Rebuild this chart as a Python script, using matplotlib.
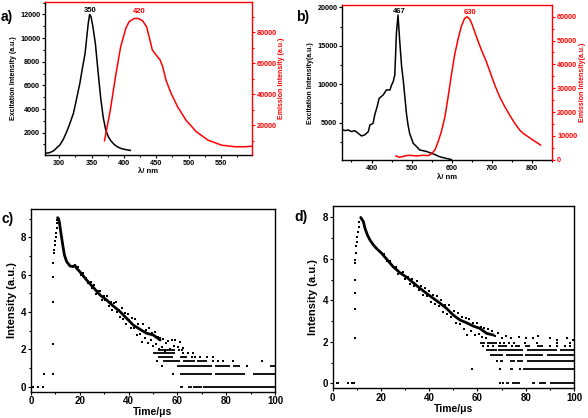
"""
Excitation/emission spectra (a, b) and luminescence decay curves (c, d).
"""

import matplotlib.pyplot as plt
from matplotlib.ticker import MultipleLocator, AutoMinorLocator

plt.rcParams['font.family'] = ['Liberation Sans', 'DejaVu Sans']
plt.rcParams['font.weight'] = 'bold'
plt.rcParams['axes.labelweight'] = 'bold'

RED = '#ff0000'

# ---- panel a: spectra ----
a_ex_nm = [278, 285, 291, 296, 301, 306, 311, 316, 322, 327, 332, 336, 340, 343,
           345, 347, 349, 352, 356, 360, 364, 368, 372, 376, 380, 385, 390, 396, 403, 410]
a_ex_int = [250, 300, 450, 700, 960, 1400, 2000, 2700, 3640, 4900, 6200, 7500, 8700, 10300,
            11300, 12000, 11850, 11000, 9500, 7200, 5000, 3300, 2200, 1650, 1300, 1000, 800, 650, 560, 500]
a_em_nm = [370, 379, 387, 395, 403, 408, 416, 422, 429, 435, 439, 444, 450, 456, 460,
           465, 473, 483, 496, 512, 530, 551, 572, 587, 598]
a_em_int = [9900, 29700, 51300, 70700, 82600, 86900, 89000, 89000, 87500, 83700, 77200, 68600,
            65300, 62100, 57800, 49200, 40500, 31900, 23200, 15700, 10300, 7000, 6000, 6000, 6300]

# ---- panel b: spectra ----
b_ex_nm = [329, 334, 342, 350, 358, 367, 375, 383, 392, 396, 404, 408, 414, 419, 429, 437,
           446, 450, 454, 458, 462, 466, 470, 475, 479, 483, 487, 491, 495, 504, 512, 520,
           537, 553, 570, 586, 599]
b_ex_int = [4050, 3960, 4050, 3830, 3960, 3610, 3270, 3400, 3830, 4700, 4910, 6000, 7080, 8160,
            8600, 9250, 9250, 9900, 10330, 11200, 16600, 19000, 15800, 12300, 10550, 8400, 6200,
            4700, 3600, 2300, 1900, 1450, 1250, 950, 560, 350, 200]
b_em_nm = [461, 470, 483, 495, 512, 529, 541, 549, 558, 566, 574, 583, 591, 599, 607, 616,
           624, 632, 638, 645, 651, 657, 666, 674, 686, 695, 707, 719, 732, 744, 757, 769,
           778, 790, 802, 815, 821]
b_em_int = [1620, 1060, 1620, 1900, 1620, 1900, 1760, 2460, 4130, 7620, 11800, 18100, 26500,
            35600, 43900, 50900, 56100, 59300, 60000, 58900, 56600, 53700, 49500, 46000, 41200,
            37000, 31400, 26500, 22300, 18800, 15300, 12500, 11100, 9700, 8300, 6900, 6200]

# ---- panel c: decay ----
c_dot_t = [1.0, 2.7, 4.8, 5.5, 8.9, 8.9, 8.9, 8.9, 8.9, 9.3, 9.5, 9.7, 9.9, 10.1, 10.3, 10.5,
           10.6, 10.8,
           19.4, 20.6, 21.3, 22.5, 23.2, 24.4, 25.1, 25.9, 26.8, 27.6, 28.3, 29.0, 29.8, 30.5,
           31.2, 31.9, 32.8, 33.4, 34.1, 34.7, 35.3, 36.0, 36.6, 37.2, 37.9, 38.4, 39.0, 39.7,
           40.3, 40.9, 41.5, 42.1, 42.8, 43.3, 44.0, 44.6, 45.4, 45.9, 46.6, 47.2, 47.8, 48.3,
           49.0, 49.6, 50.2, 50.8, 51.3, 51.9, 52.5, 53.0, 53.6, 54.2, 54.8, 55.4, 56.3, 57.0,
           57.7, 58.5, 59.2, 60.1, 61.0, 62.3,
           58.4, 53.6, 88.4, 51.5, 74.7, 76.8, 78.8, 82.9, 94.5, 66.0, 67.2, 69.3, 72.0, 74.7,
           62.4, 64.5, 66.5, 60.5, 62.0]
c_dot_y = [0, 0, 0, 0.69, 0.69, 2.3, 4.55, 5.9, 6.64, 7.14, 7.3, 7.6, 7.8, 8.0, 8.25, 8.5,
           8.75, 8.93,
           6.39, 5.97, 6.08, 5.81, 5.53, 5.63, 5.30, 5.46, 4.98, 5.10, 5.11, 4.66, 4.86, 4.64,
           4.87, 4.33, 4.54, 4.08, 4.48, 4.51, 4.00, 4.12, 3.71, 4.21, 3.64, 3.92, 3.34, 3.90,
           3.57, 3.13, 3.70, 3.13, 3.63, 2.78, 3.33, 2.83, 2.38, 3.33, 2.62, 3.03, 2.35, 3.13,
           2.50, 2.88, 2.16, 2.91, 2.26, 2.65, 2.04, 2.59, 2.12, 2.55, 1.90, 2.35, 2.45, 2.00,
           2.50, 2.20, 2.50, 2.15, 2.40, 2.08,
           0.69, 1.1, 1.1, 1.39, 1.39, 1.39, 1.39, 1.39, 1.39, 1.61, 1.61, 1.61, 1.61, 1.61,
           1.79, 1.79, 1.79, 1.95, 1.95]
c_trend_t = [10.9, 11.3, 11.7, 12.3, 13.0, 13.7, 14.6, 16.0, 17.3, 18.0, 18.7, 20.0, 22.8,
             25.5, 28.3, 31.0, 33.7, 36.5, 39.2, 41.9, 44.7, 47.4, 50.1, 52.9]
c_trend_y = [9.05, 9.0, 8.75, 8.2, 7.6, 7.05, 6.7, 6.46, 6.43, 6.5, 6.34, 6.16, 5.71,
             5.32, 4.91, 4.64, 4.32, 4.02, 3.66, 3.3, 3.07, 2.86, 2.77, 2.5]
c_row_y = [0, 0, 0, 0, 0.69, 0.69, 0.69, 1.1, 1.1, 1.1, 1.1, 1.39, 1.39, 1.39, 1.61, 1.61,
           1.79, 1.95]
c_row_t0 = [61.0, 64.5, 66.5, 70.6, 61.0, 75.4, 91.0, 59.7, 75.4, 82.8, 98.0, 54.2, 62.3, 67.9,
            52.0, 61.0, 50.0, 52.0]
c_row_t1 = [62.4, 65.9, 70.0, 100, 74.0, 87.7, 100, 74.0, 81.6, 85.7, 100, 61.0, 67.2, 72.0,
            58.0, 63.8, 59.0, 59.0]

# ---- panel d: decay ----
d_dot_t = [1.7, 2.3, 6.5, 7.9, 9.0, 9.25, 9.25, 9.25, 9.25, 9.25, 9.25, 9.6, 9.8, 10.0, 10.2,
           10.5, 10.8, 11.1,
           21.2, 22.7, 23.8, 25.0, 26.3, 27.1, 28.4, 29.2, 30.1, 31.3, 32.2, 33.0, 33.9, 34.8,
           35.6, 36.5, 37.3, 38.2, 39.0, 39.9, 40.7, 41.6, 42.4, 43.3, 44.1, 45.0, 45.8, 46.7,
           47.5, 48.4, 49.2, 50.1, 51.0, 51.8, 52.6, 53.5, 54.3, 55.1, 55.5, 56.4, 57.2, 58.1,
           58.8, 59.7, 60.5, 61.4, 61.7, 62.6, 63.4, 64.3, 65.0, 66.0, 67.2, 68.5,
           70.0, 72.0, 74.0, 77.0, 80.0, 83.0, 85.0, 90.0, 93.0, 97.0, 99.5,
           69.3, 70.5, 57.9, 69.3, 77.6, 68.0,
           62.4, 64.5, 66.6, 74.3, 89.9, 92.8, 96.3, 98.4,
           69.5, 71.0, 73.0, 75.0, 79.5, 84.5, 92.8, 98.4]
d_dot_y = [0, 0, 0, 0, 0, 2.2, 3.6, 4.34, 5.0, 5.78, 5.94, 6.27, 6.6, 6.83, 7.07,
           7.3, 7.55, 7.8,
           6.22, 5.88, 5.90, 5.59, 5.61, 5.28, 5.34, 5.37, 5.03, 5.14, 4.78, 5.03, 4.70, 4.92,
           4.49, 4.67, 4.28, 4.58, 4.23, 4.46, 3.94, 4.25, 3.83, 4.21, 3.74, 4.01, 3.44, 3.80,
           3.32, 3.78, 3.21, 3.48, 2.90, 3.38, 2.87, 3.22, 2.62, 3.13, 2.33, 3.12, 2.52, 2.93,
           2.34, 2.90, 2.36, 2.70, 2.25, 2.67, 2.20, 2.60, 2.38, 2.50, 2.30, 2.45,
           2.2, 2.3, 2.2, 2.25, 2.2, 2.2, 2.3, 2.2, 2.08, 2.2, 2.08,
           0, 0, 0.69, 0.69, 0.69, 1.1,
           1.79, 1.79, 1.79, 1.79, 1.79, 1.79, 1.79, 1.79,
           1.95, 1.95, 1.95, 1.95, 1.95, 1.95, 1.95, 1.95]
d_trend_t = [11.6, 12.7, 13.4, 14.4, 15.5, 16.9, 18.2, 20.3, 22.4, 25.1, 27.9, 30.7, 33.4,
             36.2, 38.9, 41.7, 44.5, 47.2, 50.0, 52.8, 55.5, 58.3, 61.0, 63.8, 66.6]
d_trend_y = [8.0, 7.8, 7.47, 7.15, 6.9, 6.67, 6.5, 6.27, 5.98, 5.62, 5.33, 5.11, 4.85,
             4.58, 4.34, 4.1, 3.86, 3.61, 3.29, 3.05, 2.92, 2.76, 2.65, 2.41, 2.33]
d_row_y = [0, 0, 0, 0, 0, 0.69, 0.69, 1.1, 1.1, 1.1, 1.1, 1.39, 1.39, 1.39, 1.39,
           1.61, 1.61, 1.61, 1.61, 1.79, 1.79, 1.79, 1.79, 1.95, 1.95]
d_row_t0 = [72.0, 74.5, 82.5, 85.5, 90.0, 73.4, 79.0, 69.3, 73.5, 76.5, 80.4, 65.2, 72.0, 79.7,
            88.7, 63.5, 68.6, 80.4, 94.2, 68.6, 75.5, 79.7, 84.5, 61.0, 64.0]
d_row_t1 = [73.0, 77.6, 84.0, 88.6, 100, 74.8, 100, 70.7, 75.5, 79.0, 100, 70.7, 79.0, 87.3,
            100, 68.0, 79.0, 92.8, 100, 72.1, 77.5, 81.8, 87.3, 63.0, 68.0]

fig = plt.figure(figsize=(5.88, 4.18), dpi=100)


def style_axis(ax, size, major_len, pad):
    ax.tick_params(which='both', direction='out', labelsize=size, width=0.8, pad=pad)
    ax.tick_params(which='major', length=major_len)
    ax.tick_params(which='minor', length=major_len * 0.6)
    for s in ax.spines.values():
        s.set_linewidth(1.0)


def spectrum_panel(rect, ex_x, ex_y, em_x, em_y, xlim, ylim, y2lim, xstep, ystep, y2step,
                   ylabel, y2label):
    ax = fig.add_axes(rect)
    ax2 = ax.twinx()
    ax.plot(ex_x, ex_y, color='k', lw=1.1)
    ax2.plot(em_x, em_y, color=RED, lw=1.1)
    ax.set_xlim(*xlim)
    ax.set_ylim(*ylim)
    ax2.set_ylim(*y2lim)
    ax.xaxis.set_major_locator(MultipleLocator(xstep))
    ax.yaxis.set_major_locator(MultipleLocator(ystep))
    ax2.yaxis.set_major_locator(MultipleLocator(y2step))
    for a in (ax, ax2):
        a.xaxis.set_minor_locator(AutoMinorLocator(2))
        a.yaxis.set_minor_locator(AutoMinorLocator(2))
        style_axis(a, 5.2, 2.0, 1.5)
    ax.spines['top'].set_visible(False)
    ax.spines['right'].set_visible(False)
    ax2.spines['left'].set_visible(False)
    ax2.spines['bottom'].set_visible(False)
    ax2.spines['right'].set_color(RED)
    ax2.spines['top'].set_color(RED)
    ax2.tick_params(axis='y', which='both', colors=RED, labelcolor=RED)
    ax.set_xlabel('λ/ nm', fontsize=5.5, labelpad=1)
    ax.set_ylabel(ylabel, fontsize=5, labelpad=2)
    ax2.set_ylabel(y2label, fontsize=5, color=RED, labelpad=1)
    return ax, ax2


def decay_panel(rect, trend_t, trend_y, dot_t, dot_y, row_y, row_t0, row_t1, ylim):
    ax = fig.add_axes(rect)
    ax.plot(trend_t, trend_y, color='k', lw=2.0, solid_capstyle='round')
    ax.scatter(dot_t, dot_y, s=3, marker='s', color='k', linewidths=0)
    ax.hlines(row_y, row_t0, row_t1, color='k', lw=1.3)
    ax.set_xlim(0, 100)
    ax.set_ylim(*ylim)
    ax.xaxis.set_major_locator(MultipleLocator(20))
    ax.xaxis.set_minor_locator(MultipleLocator(10))
    ax.yaxis.set_major_locator(MultipleLocator(2))
    ax.yaxis.set_minor_locator(MultipleLocator(1))
    style_axis(ax, 7, 2.2, 1.2)
    ax.set_xlabel('Time/μs', fontsize=7.5, labelpad=0.5)
    ax.set_ylabel('Intensity (a.u.)', fontsize=8, labelpad=3)
    return ax


ax_a, ax_a2 = spectrum_panel([0.0765, 0.629, 0.352, 0.366],
                             a_ex_nm, a_ex_int, a_em_nm, a_em_int,
                             (278, 598), (100, 13050), (600, 99600), 50, 2000, 20000,
                             'Excitation Intensity (a.u.)', 'Emission Intensity (a.u.)')
ax_a.text(347.5, 12300, '350', fontsize=5.5, ha='center', va='center')
ax_a2.text(424, 93300, '420', fontsize=5.5, ha='center', va='center', color=RED)

ax_b, ax_b2 = spectrum_panel([0.582, 0.6165, 0.357, 0.3715],
                             b_ex_nm, b_ex_int, b_em_nm, b_em_int,
                             (327, 850), (100, 20300), (-200, 64900), 100, 5000, 10000,
                             'Excitation Intensity(a.u.)', 'Emission Intensity(a.u.)')
ax_b.text(468, 19430, '467', fontsize=5.5, ha='center', va='center')
ax_b2.text(646, 61700, '630', fontsize=5.5, ha='center', va='center', color=RED)

decay_panel([0.0527, 0.0629, 0.415, 0.4364], c_trend_t, c_trend_y, c_dot_t, c_dot_y,
            c_row_y, c_row_t0, c_row_t1, (-0.27, 9.5))
decay_panel([0.5658, 0.0710, 0.4104, 0.4361], d_trend_t, d_trend_y, d_dot_t, d_dot_y,
            d_row_y, d_row_t0, d_row_t1, (-0.24, 8.55))

# panel letters
for label, px, py in [('a)', 7, 17.5), ('b)', 302.5, 16.7), ('c)', 7.5, 219), ('d)', 301, 216.7)]:
    fig.text(px / 588, 1 - py / 418, label, fontsize=10, ha='center', va='center')

fig.savefig('out.png', dpi=100)
